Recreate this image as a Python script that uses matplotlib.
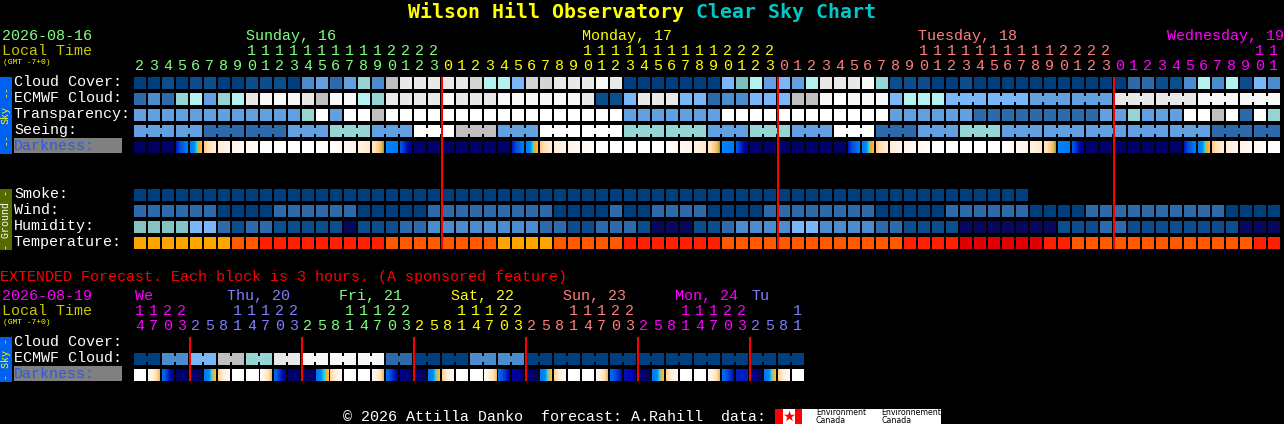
import numpy as np
import matplotlib
matplotlib.use("Agg")
import matplotlib.pyplot as plt
from matplotlib.colors import LinearSegmentedColormap
from matplotlib.patches import Rectangle
from matplotlib.transforms import blended_transform_factory

# ---------- data ----------
HOURS = [2,3,4,5,6,7,8,9,10,11,12,13,14,15,16,17,18,19,20,21,22,23,
         0,1,2,3,4,5,6,7,8,9,10,11,12,13,14,15,16,17,18,19,20,21,22,23,
         0,1,2,3,4,5,6,7,8,9,10,11,12,13,14,15,16,17,18,19,20,21,22,23,
         0,1,2,3,4,5,6,7,8,9,10,11]
HOUR_DAY = [0]*22 + [1]*24 + [2]*24 + [3]*12
DAY_LABELS = ["Sunday, 16", "Monday, 17", "Tuesday, 18", "Wednesday, 19"]
DAY_LABEL_COLS = [8, 32, 56, 73.79]
DAY_COLORS = ["#7fff7f", "#ffff00", "#ff7f7f", "#ff00ff"]
MIDNIGHTS = [22, 46, 70]

CLOUD = [0,0,1,0,1,1,0,0,1,1,1,0,3,4,2,4,6,3,8,9,9,9,9,9,12,7,7,5,12,12,9,9,9,10,9,
         0,0,0,0,0,0,0,5,13,7,4,5,4,7,9,9,9,10,6,1,1,1,0,0,1,
         0,0,0,0,0,0,0,0,0,0,0,2,2,1,1,3,7,3,7,1,5,3]
ECMWF = [2,3,2,6,7,4,6,7,9,10,10,10,9,8,10,10,7,6,9,9,9,9,10,9,9,9,10,10,10,10,10,10,9,1,1,
         5,9,9,9,5,5,2,3,3,5,5,5,8,8,10,11,10,10,10,5,7,7,7,
         5,5,4,4,9,9,10,10]
ECMWF_SPANS = [1]*58 + [3,3,3,3,3,3,3,3]
TRANSPARENCY = [4,4,4,4,4,4,4,4,4,4,4,4,6,11,4,11,11,8,
                11,11,11,11,11,11,11,11,11,11,11,11,11,11,11,11,11,
                4,4,4,4,4,4,4,
                11,11,11,11,11,11,11,11,11,11,11,11,
                4,4,4,4,4,4,2,2,2,2,2,2,2,2,2,
                4,4,6,4,4,4,11,11,8,11,2,11,6]
SEEING = [4,4,2,2,4,6,4,11,8,4,11,11,6,6,4,6,4,11,2,4,6,4,4,4,4,4,2,2]
SEEING_SPANS = [3,2,3,3,3,3,3,3,3,3,3,3,3,3,3,3,3,3,3,3,3,3,3,3,3,3,3,2]
DARK_START = [.02,.02,.03,.14,.30,.48,.68,.78,.88,.96,1,1,1,1,1,.90,.75,.62,.33,.22,.04,.03,
              .03,.03,.03,.03,.03,.14,.30,.48,.68,.78,.88,.96,1,1,1,1,1,.90,.75,.62,.33,.22,.04,.03,
              .03,.03,.03,.03,.03,.14,.30,.48,.68,.78,.88,.96,1,1,1,1,1,.90,.75,.62,.33,.22,.04,.03,
              .03,.03,.03,.03,.03,.14,.30,.48,.68,.78,.88,.96]
DARK_END = [.02,.02,.03,.30,.42,.68,.78,.88,.96,1,1,1,1,1,.90,.75,.62,.36,.28,.05,.03,.03,
            .03,.03,.03,.03,.03,.30,.42,.68,.78,.88,.96,1,1,1,1,1,.90,.75,.62,.36,.28,.05,.03,.03,
            .03,.03,.03,.03,.03,.30,.42,.68,.78,.88,.96,1,1,1,1,1,.90,.75,.62,.36,.28,.05,.03,.03,
            .03,.03,.03,.03,.03,.30,.42,.68,.78,.88,.96,1]
SMOKE = [0]*64
WIND = [2,2,2,2,2,2,0,0,0,0,2,2,2,2,2,2,0,0,0,0,0,
        2,2,2,2,2,2,2,2,2,0,0,0,0,2,0,0,2,2,2,2,0,0,0,0,
        2,2,2,2,2,2,2,2,0,0,0,0,0,2,2,2,2,2,2,0,0,0,0,
        2,2,2,2,2,2,2,2,2,2,0,0,0,0]
HUMIDITY = [14,14,14,14,5,5,2,1,2,2,1,1,1,1,1,15,1,1,1,2,2,
            3,3,3,3,3,3,3,3,2,2,1,1,2,2,2,1,15,15,15,1,1,2,3,3,3,3,5,5,3,3,3,
            3,2,2,1,1,1,1,15,15,15,15,15,15,15,1,1,1,2,2,1,1,1,1,1,1,1,1,15,15,15]
TEMPERATURE = [0,0,0,0,0,0,0,1,1,2,2,2,2,2,2,2,2,2,1,1,1,
               1,1,1,1,1,0,0,0,0,1,1,1,1,1,2,2,2,2,2,2,2,1,1,1,1,1,1,1,1,1,1,
               1,1,1,2,2,2,2,3,3,3,3,3,3,2,2,1,1,1,1,1,1,1,1,1,1,1,1,1,2,2]

EXT_HOURS = [14,17,20,23,2,5,8,11,14,17,20,23,2,5,8,11,14,17,20,23,2,5,8,11,
             14,17,20,23,2,5,8,11,14,17,20,23,2,5,8,11,14,17,20,23,2,5,8,11]
EXT_HOUR_DAY = [0]*4 + [1]*8 + [2]*8 + [3]*8 + [4]*8 + [0]*8 + [1]*4
EXT_DAY_LABELS = ["We", "Thu, 20", "Fri, 21", "Sat, 22", "Sun, 23", "Mon, 24", "Tu"]
EXT_DAY_LABEL_X = [135, 227, 339, 451, 563, 675, 751]
EXT_DAY_LABEL_COLORS = ["#ff00ff", "#7f7fff", "#7fff7f", "#ffff00", "#ff7f7f", "#ff00ff", "#7f7fff"]
EXT_HOUR_COLORS = ["#ff00ff", "#7f7fff", "#7fff7f", "#ffff00", "#ff7f7f"]
EXT_MIDNIGHTS = [4, 12, 20, 28, 36, 44]
EXT_ECMWF = [0,3,5,8,6,9,10,10,10,2,0,0,3,3,0,0,0,0,0,0,0,0,0,0]
EXT_ECMWF_SPANS = [2]*24
EXT_DARK_START = [1,.85,.26,.03,.03,.28,.50,1, 1,.90,.26,.03,.03,.28,.50,1, 1,.90,.26,.06,.03,.28,.50,1,
                  1,.90,.26,.10,.03,.28,.50,1, 1,.90,.26,.12,.04,.28,.50,1, 1,.90,.26,.14,.08,.28,.50,1]
EXT_DARK_END = [1,.42,.05,.03,.03,.42,.92,1, 1,.42,.06,.03,.03,.42,.92,1, 1,.42,.08,.03,.03,.42,.92,1,
                1,.42,.10,.04,.03,.42,.92,1, 1,.42,.12,.10,.03,.42,.92,1, 1,.42,.12,.14,.02,.42,.92,1]

# ---------- colours ----------
LEVEL_COLORS = ["#003f7f", "#0b4d8d", "#2c6aab", "#4a8ccd", "#62a0e2", "#7ab7fa", "#95d5d3",
                "#b4f2f2", "#bfbfbf", "#e8e8e8", "#f8f8f8", "#ffffff", "#d4d4d4", "#7fbfbf",
                "#85c2c2", "#07075f"]
TEMP_COLORS = ["#ffa500", "#ff5a00", "#ff2000", "#e00000"]
DARK_CMAP = LinearSegmentedColormap.from_list("dark", [
    (0.00, "#000050"), (0.10, "#0000b0"), (0.20, "#0050e0"), (0.28, "#0078f0"),
    (0.34, "#0088ff"), (0.37, "#20e0e0"), (0.39, "#f8a820"), (0.44, "#ffc070"),
    (0.55, "#ffe0b0"), (0.70, "#fff0dc"), (0.85, "#fff8f0"), (1.00, "#ffffff")])

# ---------- layout ----------
W, H = 1284, 424
PITCH_X, PITCH_Y, CELL = 14, 16, 12
GRID_X = 134
MONO = "Liberation Mono"
FS = 10.8

fig = plt.figure(figsize=(W/100, H/100), dpi=100, facecolor="black")
page = fig.add_axes([0, 0, 1, 1], zorder=0)
page.set_xlim(0, W)
page.set_ylim(H, 0)
page.axis("off")


def grid_axes(top, ncols, nrows):
    ax = fig.add_axes([GRID_X/W, 1-(top+nrows*PITCH_Y)/H, ncols*PITCH_X/W, nrows*PITCH_Y/H], zorder=2)
    ax.set_xlim(0, ncols)
    ax.set_ylim(nrows, 0)
    ax.axis("off")
    ax.patch.set_alpha(0)
    return ax


def draw_row(ax, row, values, palette, spans=None):
    spans = spans if spans is not None else [1]*len(values)
    col = 0
    for value, span in zip(values, spans):
        color = palette[value]
        ax.bar(np.arange(col, col+span), CELL/PITCH_Y, width=CELL/PITCH_X, bottom=row,
               align="edge", color=color, linewidth=0)
        if span > 1:
            ax.bar(np.arange(col, col+span-1)+CELL/PITCH_X, 6/PITCH_Y, width=2/PITCH_X,
                   bottom=row+3/PITCH_Y, align="edge", color=color, linewidth=0)
        col += span


def draw_darkness(ax, row, starts, ends):
    for col, (s, e) in enumerate(zip(starts, ends)):
        ax.imshow(np.linspace(s, e, CELL)[None, :], cmap=DARK_CMAP, vmin=0, vmax=1, aspect="auto",
                  interpolation="nearest",
                  extent=(col, col+CELL/PITCH_X, row+CELL/PITCH_Y, row))


def label(x, y, s, color="white", size=FS, **kw):
    kw.setdefault("family", MONO)
    page.text(x, y, s, color=color, fontsize=size, ha=kw.pop("ha", "left"), va=kw.pop("va", "baseline"), **kw)


def hour_digits(ax, hours, colors, y_tens, y_ones):
    trans = blended_transform_factory(ax.transData, page.transData)
    for col, (hour, color) in enumerate(zip(hours, colors)):
        cx = col + (CELL/2 - 0.5)/PITCH_X
        if hour >= 10:
            ax.text(cx, y_tens, str(hour//10), color=color, fontsize=FS, family=MONO, ha="center",
                    va="baseline", transform=trans, clip_on=False)
        ax.text(cx, y_ones, str(hour % 10), color=color, fontsize=FS, family=MONO, ha="center",
                va="baseline", transform=trans, clip_on=False)


def side_band(top, bottom, color, parts, text_color):
    page.add_patch(Rectangle((0, top), 12, bottom-top, facecolor=color, linewidth=0))
    for y, s in parts:
        page.text(6, y, s, color=text_color, fontsize=7.2, family=MONO, rotation=90,
                  ha="center", va="center")


# title
label(408, 18, "Wilson Hill Observatory", color="#ffff00", size=14.35, weight="bold", family="DejaVu Sans Mono")
label(696, 18, "Clear Sky Chart", color="#00c8c8", size=14.35, weight="bold", family="DejaVu Sans Mono")

# ---------- main chart ----------
top = grid_axes(77, 82, 11)
draw_row(top, 0, CLOUD, LEVEL_COLORS)
draw_row(top, 1, ECMWF, LEVEL_COLORS, ECMWF_SPANS)
draw_row(top, 2, TRANSPARENCY, LEVEL_COLORS)
draw_row(top, 3, SEEING, LEVEL_COLORS, SEEING_SPANS)
draw_darkness(top, 4, DARK_START, DARK_END)
draw_row(top, 7, SMOKE, LEVEL_COLORS)
draw_row(top, 8, WIND, LEVEL_COLORS)
draw_row(top, 9, HUMIDITY, LEVEL_COLORS)
draw_row(top, 10, TEMPERATURE, TEMP_COLORS)
top.vlines(MIDNIGHTS, 0, 10.75, color="#ff0000", linewidth=1.44, zorder=5)
top.set_xlim(0, 82)
top.set_ylim(11, 0)

hour_digits(top, HOURS, [DAY_COLORS[d] for d in HOUR_DAY], 55, 70)
day_trans = blended_transform_factory(top.transData, page.transData)
for col, s, color in zip(DAY_LABEL_COLS, DAY_LABELS, DAY_COLORS):
    top.text(col, 40, s, color=color, fontsize=FS, family=MONO, ha="left", va="baseline",
             transform=day_trans, clip_on=False)

label(2, 40, "2026-08-16", color="#7fff7f")
label(2, 55, "Local Time", color="#c8c800")
label(3, 64.5, "(GMT -7+0)", color="#ffff00", size=5.8)

for y, s in zip([86, 102, 118, 134], ["Cloud Cover:", "ECMWF Cloud:", "Transparency:", "Seeing:"]):
    label(14, y, s)
page.add_patch(Rectangle((14, 138), 108, 15, facecolor="#808080", linewidth=0))
label(14, 150, "Darkness:", color="#2a5ae0")
for y, s in zip([198, 214, 230, 246], ["Smoke:", "Wind:", "Humidity:", "Temperature:"]):
    label(14, y, s)
side_band(77, 154, "#0060f0", [(91, "--"), (115, "Sky"), (139, "--")], "#ffff00")
side_band(189, 250, "#556b00", [(219.5, "- Ground -")], "#ffffff")

# ---------- extended forecast ----------
label(0, 281, "EXTENDED Forecast. Each block is 3 hours. (A sponsored feature)", color="#ff0000")
ext = grid_axes(337, 48, 3)
draw_row(ext, 1, EXT_ECMWF, LEVEL_COLORS, EXT_ECMWF_SPANS)
draw_darkness(ext, 2, EXT_DARK_START, EXT_DARK_END)
ext.vlines(EXT_MIDNIGHTS, 0, 2.75, color="#ff0000", linewidth=1.44, zorder=5)
ext.set_xlim(0, 48)
ext.set_ylim(3, 0)
hour_digits(ext, EXT_HOURS, [EXT_HOUR_COLORS[d] for d in EXT_HOUR_DAY], 315, 330)
for x, s, color in zip(EXT_DAY_LABEL_X, EXT_DAY_LABELS, EXT_DAY_LABEL_COLORS):
    label(x, 300, s, color=color)
label(2, 300, "2026-08-19", color="#ff00ff")
label(2, 315, "Local Time", color="#c8c800")
label(3, 324.5, "(GMT -7+0)", color="#ffff00", size=5.8)
for y, s in zip([346, 362], ["Cloud Cover:", "ECMWF Cloud:"]):
    label(14, y, s)
page.add_patch(Rectangle((14, 366), 108, 15, facecolor="#808080", linewidth=0))
label(14, 378, "Darkness:", color="#2a5ae0")
side_band(337, 382, "#0060f0", [(359.5, "- Sky -")], "#ffff00")

# ---------- footer ----------
label(343, 421, "\u00a9 2026 Attilla Danko  forecast: A.Rahill  data:")
page.add_patch(Rectangle((775, 409), 166, 15, facecolor="white", linewidth=0))
page.add_patch(Rectangle((775, 409), 8, 15, facecolor="#ff0000", linewidth=0))
page.add_patch(Rectangle((795, 409), 7, 15, facecolor="#ff0000", linewidth=0))
page.scatter([789], [416], marker="*", s=70, color="#ff0000", linewidths=0)
for x, s in zip([816, 881], ["Environment\nCanada", "Environnement\nCanada"]):
    page.text(x, 416.5, s, color="black", fontsize=5.7, family="DejaVu Sans", ha="left", va="center",
              linespacing=0.95)

fig.savefig("out.png", dpi=100, facecolor="black")
